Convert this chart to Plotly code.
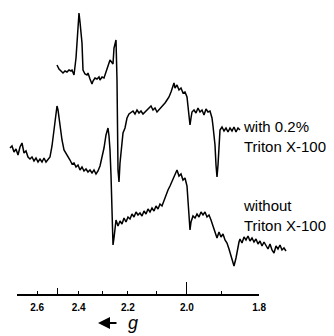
import plotly.graph_objects as go

# Magnetic field (mT) and signal (arb. units)
# Spectrum "with 0.2% Triton X-100"
field_with = [259.7, 260.7, 261.7, 262.7, 263.7, 264.7, 265.7, 266.7, 267.2, 268.2,
              269.2, 270.2, 270.7, 271.2, 272.2, 272.7, 273.7, 274.7, 275.2, 276.2,
              277.2, 277.7, 278.7, 279.7, 280.7, 281.2, 282.2, 283.2, 284.2, 285.2,
              286.2, 287.2, 287.7, 288.2, 289.2, 289.7, 289.95, 290.2, 290.7, 291.2,
              292.2, 292.7, 293.7, 294.7, 295.7, 296.7, 297.7, 298.7, 299.7, 300.7,
              301.7, 302.7, 303.7, 304.7, 305.7, 306.7, 307.7, 308.7, 309.7, 310.7,
              311.7, 312.7, 313.7, 314.7, 315.7, 316.7, 317.7, 318.2, 318.7, 319.7,
              320.7, 321.7, 322.7, 323.7, 324.7, 325.2, 326.2, 326.7, 327.2, 328.2,
              329.2, 330.2, 331.2, 332.2, 333.2, 334.2, 335.2, 336.2, 337.2, 337.7,
              338.7, 339.2, 339.7, 340.2, 340.7, 341.2, 342.2, 343.2, 344.2, 345.2,
              346.2, 347.2, 348.2, 349.2, 350.2, 351.2]
signal_with = [55, 51, 49, 47, 49, 48, 50, 49, 50, 45,
               62, 90, 107, 98, 77, 50, 46, 45, 47, 41,
               36, 39, 42, 41, 43, 40, 43, 42, 47, 54,
               60, 58, 56, 72, 80, 40, -20, -50, -62, -43,
               -23, -13, -8, 2, 6, 8, 9, 6, 10, 7,
               9, 6, 8, 10, 13, 14, 10, 12, 8, 10,
               13, 14, 17, 20, 23, 28, 34, 37, 32, 35,
               30, 32, 27, 28, 23, 12, -5, 2, 8, 10,
               7, 12, 8, 10, 5, 11, 8, 9, 2, -6,
               -25, -45, -57, -45, -25, -10, -7, -11, -8, -12,
               -8, -11, -7, -12, -8, -10]

# Spectrum "without Triton X-100"
field_without = [236.2, 237.2, 238.2, 239.2, 240.2, 241.2, 242.2, 243.2, 244.2, 245.2,
                 246.2, 247.2, 248.2, 249.2, 250.2, 251.2, 252.2, 253.2, 254.2, 255.2,
                 256.2, 257.2, 258.2, 258.7, 259.7, 260.2, 261.2, 262.2, 263.2, 264.2,
                 265.2, 266.2, 267.2, 268.2, 269.2, 270.2, 271.2, 272.2, 273.2, 274.2,
                 275.2, 276.2, 277.2, 278.2, 279.2, 280.2, 281.2, 282.2, 283.2, 284.2,
                 285.2, 285.7, 286.2, 286.7, 287.2, 287.7, 288.2, 288.7, 289.2,
                 290.2, 291.2, 292.2, 293.2, 294.2, 295.2, 296.2, 297.2, 298.2, 299.2,
                 300.2, 301.2, 302.2, 303.2, 304.2, 305.2, 306.2, 307.2, 308.2, 309.2,
                 310.2, 311.2, 312.2, 313.2, 314.2, 315.2, 316.2, 317.2, 318.2, 319.2,
                 319.7, 320.7, 321.7, 322.7, 323.7, 324.7, 325.2, 326.2, 326.7, 327.7,
                 328.7, 329.7, 330.7, 331.7, 332.7, 333.7, 334.7, 335.7, 336.7, 337.7,
                 338.7, 339.7, 340.7, 341.7, 342.7, 343.7, 344.7, 345.7, 346.7, 347.7,
                 348.2, 349.2, 349.7, 350.7, 351.2,
                 352.2, 353.2, 354.2, 355.2, 356.2, 357.2, 358.2, 359.2, 360.2, 361.2,
                 362.2, 363.2, 364.2, 365.2, 366.2, 367.2, 368.2, 369.2, 370.2, 371.2,
                 372.2, 373.2, 374.2]
signal_without = [52, 54, 48, 51, 45, 53, 57, 47, 49, 43,
                  41, 43, 39, 42, 38, 41, 38, 42, 38, 40,
                  43, 54, 68, 80, 94, 90, 74, 60, 50, 47,
                  44, 40, 36, 37, 33, 35, 30, 33, 29, 31,
                  28, 30, 27, 30, 26, 29, 34, 42, 52, 65,
                  72, 64, 50, 25, -10, -45, -38, -28, -20,
                  -26, -21, -24, -18, -22, -17, -19, -14, -17, -12,
                  -15, -13, -16, -11, -14, -9, -12, -8, -11, -6,
                  -9, -4, -6, 0, 5, 10, 14, 19, 24, 28,
                  30, 24, 26, 20, 22, 14, 0, -30, -22, -16,
                  -18, -14, -17, -12, -15, -12, -17, -15, -20, -25,
                  -32, -38, -32, -37, -34, -40, -43, -49, -55, -62,
                  -66, -58, -52, -42, -39,
                  -43, -37, -40, -36, -41, -38, -42, -39, -44, -41,
                  -46, -42, -45, -49, -44, -50, -53, -46, -49, -45,
                  -50, -48, -51]

# g-value axis
K_FIELD = 649.35          # field (mT) * g for the spectrometer frequency
g_ticks = [2.6, 2.5, 2.4, 2.3, 2.2, 2.1, 2.0, 1.9, 1.8]
g_labels = ["2.6", "", "2.4", "", "2.2", "", "2.0", "", "1.8"]
g_axis_start = 2.709
g_long_tick = [2.0]
g_mid_tick = [2.5]

OFFSET_WITH = 0
OFFSET_WITHOUT = -80

fig = go.Figure()
line = dict(color="black", width=1.5)
fig.add_trace(go.Scatter(x=field_with, y=[v + OFFSET_WITH for v in signal_with],
                         mode="lines", line=line, xaxis="x", yaxis="y", showlegend=False,
                         hoverinfo="skip"))
fig.add_trace(go.Scatter(x=field_without, y=[v + OFFSET_WITHOUT for v in signal_without],
                         mode="lines", line=line, xaxis="x", yaxis="y", showlegend=False,
                         hoverinfo="skip"))
for ax in ["x2", "x3", "x4"]:
    fig.add_trace(go.Scatter(x=[], y=[], xaxis=ax, yaxis="y", showlegend=False))

# page body keeps an 8px margin, so the figure is 8px smaller than the window
W, H = 326, 328
MB = 42
field_min = 235.2
field_max = field_min + W / 2
ax_lo = K_FIELD / g_axis_start
ax_hi = K_FIELD / g_ticks[-1]
dom = [(ax_lo - field_min) / (field_max - field_min), (ax_hi - field_min) / (field_max - field_min)]

tick_font = dict(family="Liberation Sans, Arial", size=10, color="black", weight="bold")
common = dict(domain=dom, range=[ax_lo, ax_hi], anchor="y", showgrid=False, zeroline=False,
              fixedrange=True)

fig.update_layout(
    width=W, height=H,
    margin=dict(l=0, r=0, t=0, b=MB, autoexpand=False),
    paper_bgcolor="white", plot_bgcolor="rgba(0,0,0,0)",
    xaxis=dict(range=[field_min, field_max], visible=False, domain=[0, 1]),
    yaxis=dict(range=[-174, 112], visible=False),
    xaxis2=dict(**common, showline=True, linecolor="black", linewidth=1.5,
                tickmode="array", tickvals=[K_FIELD / g for g in g_ticks], ticktext=g_labels,
                ticks="inside", ticklen=3, tickwidth=1.2, tickcolor="black",
                tickfont=tick_font, ticklabelstandoff=3),
    xaxis3=dict(**common, overlaying="x2", showline=False, showticklabels=False,
                tickmode="array", tickvals=[K_FIELD / g for g in g_mid_tick],
                ticks="inside", ticklen=6, tickwidth=1.2, tickcolor="black"),
    xaxis4=dict(**common, overlaying="x2", showline=False, showticklabels=False,
                tickmode="array", tickvals=[K_FIELD / g for g in g_long_tick],
                ticks="inside", ticklen=12, tickwidth=1.2, tickcolor="black"),
    font=dict(family="Liberation Sans, Arial", color="black"),
)

label_font = dict(family="Liberation Sans, Arial", size=15, color="black")
fig.add_annotation(x=351.7, y=-16, xref="x", yref="y", text="with 0.2%<br>Triton X-100",
                   showarrow=False, xanchor="left", yanchor="middle", align="left",
                   font=label_font)
fig.add_annotation(x=351.7, y=-95, xref="x", yref="y", text="without<br>Triton X-100",
                   showarrow=False, xanchor="left", yanchor="middle", align="left",
                   font=label_font)
# arrow pointing to higher g
fig.add_annotation(x=0.276, y=-0.101, xref="paper", yref="paper", text="",
                   showarrow=True, ax=20, ay=0, arrowhead=2, arrowsize=1.2, arrowwidth=2,
                   arrowcolor="black")
fig.add_annotation(x=0.383, y=-0.101, xref="paper", yref="paper", text="<i>g</i>",
                   showarrow=False, xanchor="center", yanchor="middle",
                   font=dict(family="Liberation Sans, Arial", size=18, color="black"))

fig.write_html("out.html")
